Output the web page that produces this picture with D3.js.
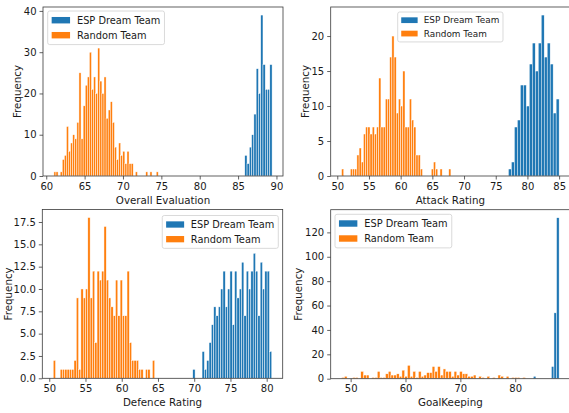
<!DOCTYPE html>
<html>
<head>
<meta charset="utf-8">
<script src="https://cdn.jsdelivr.net/npm/d3@7/dist/d3.min.js"></script>
<style>
  body { margin: 0; background: #fff; }
  svg text { font-family: "DejaVu Sans", sans-serif; fill: #1a1a1a; }
</style>
</head>
<body>
<svg id="chart" width="569" height="413"></svg>
<script>
// ---- Histogram data: bin range [first edge, last edge] and counts per bin ----
const seriesNames = ["ESP Dream Team", "Random Team"];

// Overall Evaluation
const overallDreamRange = [85.87, 89.43];
const overallDream = [5, 3, 7, 10, 15, 26, 20, 39, 27, 21, 21, 27];
const overallRandomRange = [61.0, 74.6];
const overallRandom = [1, 1, 0, 1, 4, 5, 12, 6, 8, 10, 9, 13, 25, 9, 17, 22, 24, 30, 21, 24,
  20, 31, 23, 20, 24, 14, 16, 18, 13, 7, 4, 8, 5, 6, 3, 6, 3, 3, 0, 1,
  0, 0, 0, 0, 1, 0, 1, 0, 0, 1];
const overallTicks = [60, 65, 70, 75, 80, 85, 90];
const overallFreqTicks = [0, 10, 20, 30, 40];

// Attack Rating
const attackDreamRange = [77.0, 85.0];
const attackDream = [1, 2, 7, 8, 13, 13, 10, 16, 19, 15, 19, 23, 17, 19, 16, 9, 11];
const attackRandomRange = [50.68, 67.93];
const attackRandom = [1, 0, 0, 0, 1, 1, 1, 3, 4, 2, 6, 7, 7, 6, 7, 6, 7, 14, 7, 7,
  11, 11, 17, 20, 17, 9, 11, 10, 15, 7, 7, 11, 8, 7, 3, 3, 1, 0, 0, 0,
  0, 1, 2, 1, 0, 1, 0, 0, 0, 1];
const attackTicks = [50, 55, 60, 65, 70, 75, 80, 85];
const attackFreqTicks = [0, 5, 10, 15, 20];

// Defence Rating
const defenceDreamRange = [69.8, 80.7];
const defenceDream = [1, 0, 0, 0, 3, 1, 2, 4, 6, 8, 7, 8, 10, 12, 8, 10, 12, 6, 12, 9,
  10, 13, 7, 12, 10, 12, 14, 12, 7, 13, 10, 12, 12, 3];
const defenceRandomRange = [50.55, 64.55];
const defenceRandom = [2, 0, 0, 1, 1, 1, 1, 1, 1, 2, 9, 1, 10, 9, 10, 18, 9, 12, 4, 12,
  11, 12, 17, 11, 9, 8, 7, 11, 7, 11, 7, 7, 12, 4, 2, 2, 2, 1, 1, 0,
  1, 1, 0, 2];
const defenceTicks = [50, 55, 60, 65, 70, 75, 80];
const defenceFreqTicks = [0, 2.5, 5, 7.5, 10, 12.5, 15, 17.5];

// GoalKeeping
const keepingDreamRange = [83.3, 88.0];
const keepingDream = [2, 0, 0, 0, 0, 0, 0, 10, 54, 132];
const keepingRandomRange = [48.35, 81.85];
const keepingRandom = [1, 2, 0, 0, 1, 1, 0, 6, 3, 3, 0, 1, 1, 6, 1, 1, 4, 6, 3, 3,
  4, 2, 7, 2, 11, 2, 6, 1, 6, 2, 3, 5, 5, 10, 6, 10, 3, 8, 6, 6,
  2, 6, 3, 6, 4, 4, 2, 2, 3, 0, 2, 1, 0, 2, 0, 1, 0, 3, 2, 0,
  2, 0, 1, 1, 1, 0, 1];
const keepingTicks = [50, 60, 70, 80];
const keepingFreqTicks = [0, 20, 40, 60, 80, 100, 120];

// ---- Layout and styling ----
const COLORS = ["#1f77b4", "#ff7f0e"];
const SPINE = "#3a3a3a";

// legend: em drives the box geometry, fs the label size
const panels = [
  { xLabel: "Overall Evaluation", box: [43, 7, 283, 176],
    series: [[overallDreamRange, overallDream], [overallRandomRange, overallRandom]],
    xTicks: overallTicks, yTicks: overallFreqTicks, yFmt: d3.format("d"),
    legend: { anchor: "left", em: 9.2, fs: 9.8, dx: 4.7, dy: 4 }, yLabelX: 20.5 },
  { xLabel: "Attack Rating", box: [330.7, 7, 570, 176],
    series: [[attackDreamRange, attackDream], [attackRandomRange, attackRandom]],
    xTicks: attackTicks, yTicks: attackFreqTicks, yFmt: d3.format("d"),
    legend: { anchor: "center", em: 8.2, fs: 8.9, dx: 0, dy: 5 }, yLabelX: 308.5 },
  { xLabel: "Defence Rating", box: [42.3, 209.5, 282.7, 378.3],
    series: [[defenceDreamRange, defenceDream], [defenceRandomRange, defenceRandom]],
    xTicks: defenceTicks, yTicks: defenceFreqTicks, yFmt: d3.format(".1f"),
    legend: { anchor: "right", em: 9.0, fs: 9.8, dx: 4.4, dy: 6 }, yLabelX: 12 },
  { xLabel: "GoalKeeping", box: [330.7, 209.7, 570, 378.7],
    series: [[keepingDreamRange, keepingDream], [keepingRandomRange, keepingRandom]],
    xTicks: keepingTicks, yTicks: keepingFreqTicks, yFmt: d3.format("d"),
    legend: { anchor: "left", em: 9.2, fs: 9.8, dx: 4.3, dy: 4.6 }, yLabelX: 302 }
];

const svg = d3.select("#chart");

function toBins(range, counts) {
  const w = (range[1] - range[0]) / counts.length;
  return counts.map((c, i) => ({ x0: range[0] + i * w, x1: range[0] + (i + 1) * w, c }));
}

panels.forEach(p => {
  const [L, T, R, B] = p.box;
  const g = svg.append("g");
  const binned = p.series.map(([r, c]) => toBins(r, c));

  // 5% horizontal margin around the data, y from zero to 5% above the tallest bar
  const lo = d3.min(p.series, s => s[0][0]);
  const hi = d3.max(p.series, s => s[0][1]);
  const pad = (hi - lo) * 0.05;
  const x = d3.scaleLinear().domain([lo - pad, hi + pad]).range([L, R]);
  const yMax = d3.max(p.series, s => d3.max(s[1]));
  const y = d3.scaleLinear().domain([0, yMax * 1.05]).range([B, T]);

  const clipId = "clip" + Math.round(L) + "_" + Math.round(T);
  g.append("clipPath").attr("id", clipId)
    .append("rect").attr("x", L).attr("y", T).attr("width", R - L).attr("height", B - T);

  binned.forEach((bins, si) => {
    g.append("g").attr("clip-path", `url(#${clipId})`)
      .selectAll("rect").data(bins.filter(d => d.c > 0)).join("rect")
      .attr("x", d => x(d.x0))
      .attr("width", d => x(d.x1) - x(d.x0))
      .attr("y", d => y(d.c))
      .attr("height", d => y(0) - y(d.c))
      .attr("fill", COLORS[si])
      .attr("stroke", "#fff")
      .attr("stroke-width", 0.45);
  });

  // axes with outward ticks
  const xAxis = d3.axisBottom(x).tickValues(p.xTicks).tickSize(3.5).tickPadding(3).tickFormat(d3.format("d"));
  const yAxis = d3.axisLeft(y).tickValues(p.yTicks).tickSize(3.5).tickPadding(3).tickFormat(p.yFmt);
  const gx = g.append("g").attr("transform", `translate(0,${B})`).call(xAxis);
  const gy = g.append("g").attr("transform", `translate(${L},0)`).call(yAxis);
  [gx, gy].forEach(a => {
    a.select(".domain").remove();
    a.selectAll(".tick line").attr("stroke", SPINE).attr("stroke-width", 0.8);
    a.selectAll(".tick text").attr("font-size", 10).attr("fill", "#1a1a1a");
  });

  // spines
  g.append("rect").attr("x", L).attr("y", T).attr("width", R - L).attr("height", B - T)
    .attr("fill", "none").attr("stroke", SPINE).attr("stroke-width", 0.8);

  // axis titles
  g.append("text").attr("x", (L + R) / 2).attr("y", B + 27.5)
    .attr("text-anchor", "middle").attr("font-size", 10.3).text(p.xLabel);
  g.append("text")
    .attr("transform", `translate(${p.yLabelX},${(T + B) / 2}) rotate(-90)`)
    .attr("text-anchor", "middle").attr("font-size", 10.3).text("Frequency");

  // legend
  const em = p.legend.em, fs = p.legend.fs;
  const lg = g.append("g");
  const frame = lg.append("rect");
  const hx = 0.43 * em, hw = 2.0 * em, tx = hx + hw + 0.75 * em;
  const texts = seriesNames.map((name, i) => {
    const cy = 1.0 * em + i * 1.63 * em;
    lg.append("rect").attr("x", hx).attr("y", cy - 0.35 * em)
      .attr("width", hw).attr("height", 0.7 * em).attr("fill", COLORS[i]);
    return lg.append("text").attr("x", tx).attr("y", cy + 0.36 * fs)
      .attr("font-size", fs).text(name);
  });
  const tw = d3.max(texts, t => t.node().getComputedTextLength());
  const bw = tx + tw + 0.45 * em, bh = 3.65 * em;
  frame.attr("width", bw).attr("height", bh).attr("rx", 2)
    .attr("fill", "#fff").attr("fill-opacity", 0.8)
    .attr("stroke", "#d0d0d0").attr("stroke-width", 0.8);
  let lx;
  if (p.legend.anchor === "left") lx = L + p.legend.dx;
  else if (p.legend.anchor === "right") lx = R - p.legend.dx - bw;
  else lx = (L + R) / 2 - bw / 2;
  lg.attr("transform", `translate(${lx},${T + p.legend.dy})`);
});
</script>
</body>
</html>
